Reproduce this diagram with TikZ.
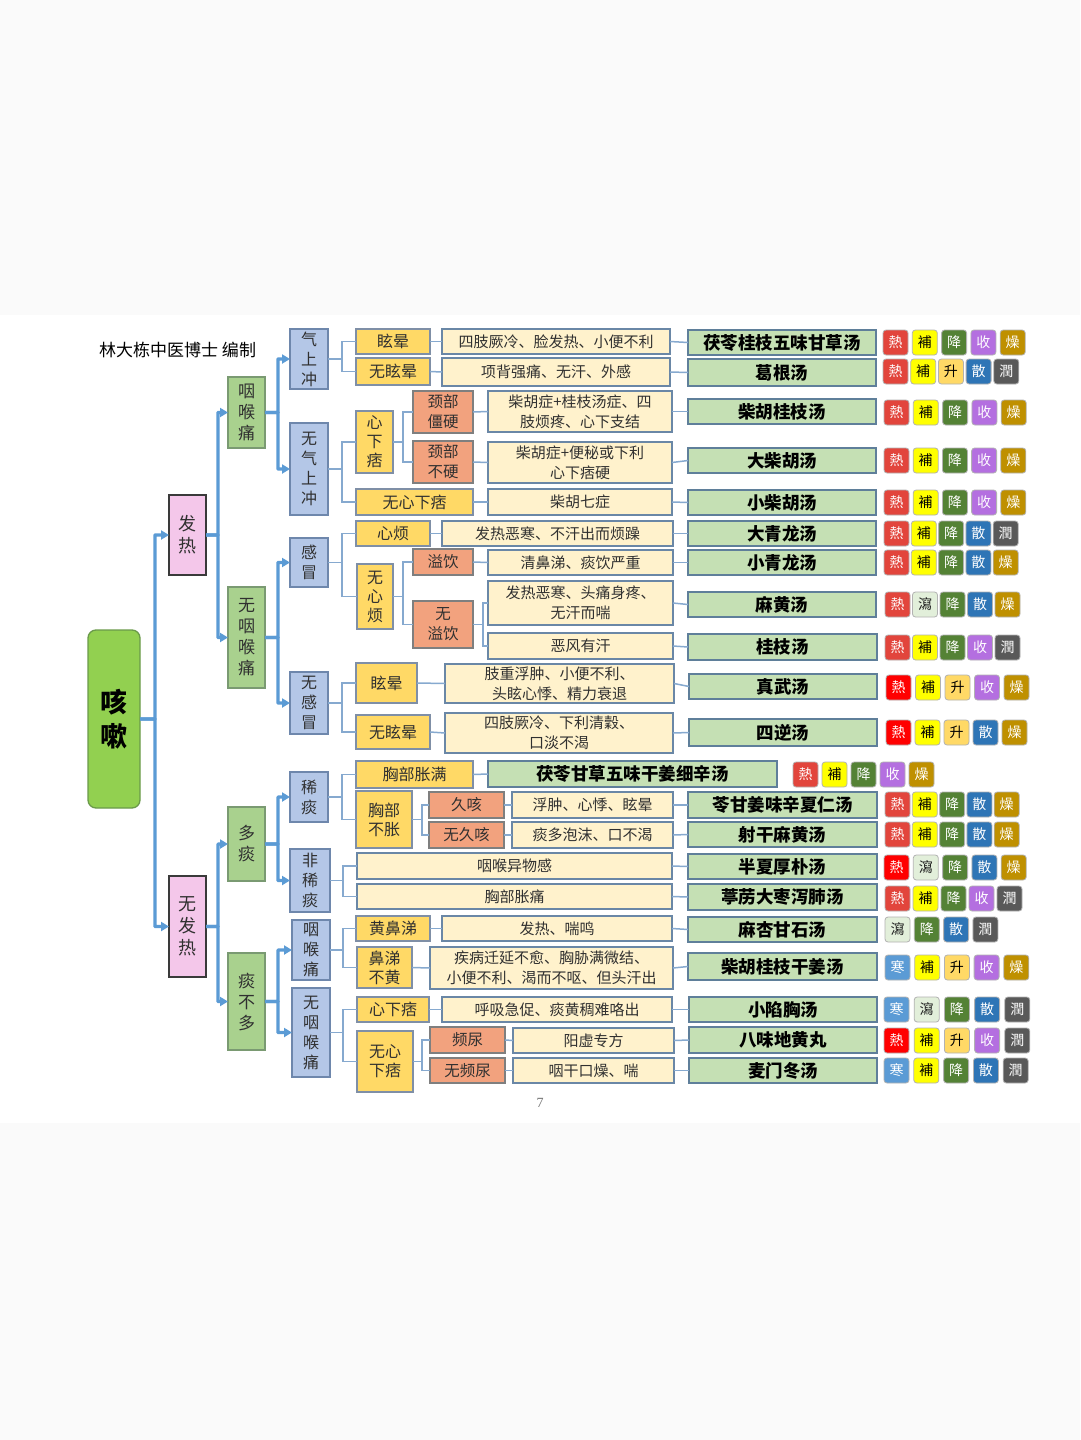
\documentclass[tikz,border=0pt]{standalone}
\usepackage{fontspec}
\setmainfont{Noto Sans CJK SC}
\newfontfamily\numfont{Liberation Serif}
\usetikzlibrary{arrows.meta}
\definecolor{rootfill}{HTML}{92D050}\definecolor{rootdraw}{HTML}{6A9A4A}
\definecolor{pinkfill}{HTML}{F4C7EA}\definecolor{pinkdraw}{HTML}{3A3A3A}
\definecolor{lvtwofill}{HTML}{A9D18E}\definecolor{lvtwodraw}{HTML}{7A9A72}
\definecolor{lvthreefill}{HTML}{B4C7E7}\definecolor{lvthreedraw}{HTML}{6E87AC}
\definecolor{yfill}{HTML}{FFD966}\definecolor{ydraw}{HTML}{7F8FA6}
\definecolor{ofill}{HTML}{F2A27E}\definecolor{odraw}{HTML}{7F7F7F}
\definecolor{sfill}{HTML}{FFF2CC}\definecolor{sdraw}{HTML}{6A87A6}
\definecolor{ffill}{HTML}{C5E0B4}\definecolor{fdraw}{HTML}{5F7F9A}
\definecolor{arrowblue}{HTML}{5B9BD5}\definecolor{connblue}{HTML}{86A9CF}
\definecolor{txt}{HTML}{303030}
% tag colours
\definecolor{tgfre}{HTML}{E2453C}\definecolor{tgtre}{HTML}{FFFFFF}
\definecolor{tgfrr}{HTML}{FF0000}\definecolor{tgtrr}{HTML}{FFFFFF}
\definecolor{tgfbu}{HTML}{FFFF00}\definecolor{tgtbu}{HTML}{000000}
\definecolor{tgfjiang}{HTML}{548235}\definecolor{tgtjiang}{HTML}{FFFFFF}
\definecolor{tgfshou}{HTML}{B46FE0}\definecolor{tgtshou}{HTML}{FFFFFF}
\definecolor{tgfzao}{HTML}{BF9000}\definecolor{tgtzao}{HTML}{FFFFFF}
\definecolor{tgfsheng}{HTML}{FFD966}\definecolor{tgtsheng}{HTML}{000000}
\definecolor{tgfsan}{HTML}{2E75B6}\definecolor{tgtsan}{HTML}{FFFFFF}
\definecolor{tgfrun}{HTML}{595959}\definecolor{tgtrun}{HTML}{FFFFFF}
\definecolor{tgfxie}{HTML}{E2EFDA}\definecolor{tgtxie}{HTML}{202020}
\definecolor{tgfhan}{HTML}{5B9BD5}\definecolor{tgthan}{HTML}{FFFFFF}
\tikzset{
  base/.style={inner sep=0pt, outer sep=0pt, align=center, text=txt, line width=1.3pt},
  rootbox/.style={base, fill=rootfill, draw=rootdraw, rounded corners=8pt, text=black, font=\fontsize{27}{34}\selectfont\bfseries},
  lvone/.style={base, fill=pinkfill, draw=pinkdraw, font=\fontsize{18}{22}\selectfont},
  lvtwo/.style={base, fill=lvtwofill, draw=lvtwodraw, font=\fontsize{17}{21}\selectfont},
  lvthree/.style={base, fill=lvthreefill, draw=lvthreedraw, font=\fontsize{16}{20}\selectfont},
  ybox/.style={base, fill=yfill, draw=ydraw, font=\fontsize{16}{19}\selectfont},
  obox/.style={base, fill=ofill, draw=odraw, font=\fontsize{15.5}{20}\selectfont},
  sbox/.style={base, fill=sfill, draw=sdraw, font=\fontsize{15}{20}\selectfont},
  fbox/.style={base, fill=ffill, draw=fdraw, text=black, font=\fontsize{17.5}{20}\selectfont\bfseries},
  tagbox/.style={inner sep=0pt, outer sep=0pt, minimum width=25pt, minimum height=25pt, rounded corners=3pt, draw=black!30, line width=0.8pt, font=\fontsize{14}{14}\selectfont},
  arr/.style={draw=arrowblue, line width=3.2pt, rounded corners=0.5pt, -{Triangle[length=8pt,width=9pt]}},
  conn/.style={draw=connblue, line width=1.5pt},
}
\newcommand\mybox[7]{\node[#2, minimum width={#5-#3}, minimum height={#6-#4}] (#1) at ({(#3+#5)/2},{(#4+#6)/2}) {#7};}
\newcommand\tgrow[5]{\foreach \tgs/\tgc [count=\tgi from 0] in {#5}{\node[tagbox, fill=tgf\tgs, text=tgt\tgs] (tg#1-\tgi) at ({#3+12.5+\tgi*#4},{#2+12.5}) {\tgc};}}
\begin{document}
\begin{tikzpicture}[x=1pt,y=-1pt]
\useasboundingbox (0,0) rectangle (1080,1440);
\fill[black!2] (0,0) rectangle (1080,1440);
\fill[white] (0,315) rectangle (1080,1123);
\node[anchor=west, inner sep=0pt, font=\fontsize{17}{20}\selectfont, text=black] (title) at (99,350) {林大栋中医博士 编制};
\node[text=black!55, inner sep=0pt, font=\numfont\fontsize{14}{14}\selectfont] (pgno) at (540,1103) {7};
% root and levels
\mybox{root}{rootbox}{88}{630}{140}{808}{咳\\嗽}
\mybox{fr}{lvone}{169}{495}{206}{575}{发\\热}
\mybox{nfr}{lvone}{169}{876}{206}{977}{无\\发\\热}
\mybox{yht}{lvtwo}{228}{377}{265}{448}{咽\\喉\\痛}
\mybox{nyht}{lvtwo}{228}{587}{265}{688}{无\\咽\\喉\\痛}
\mybox{dt}{lvtwo}{228}{807}{265}{881}{多\\痰}
\mybox{tbd}{lvtwo}{228}{953}{265}{1050}{痰\\不\\多}
\mybox{qsc}{lvthree}{290}{329}{328}{389}{气\\上\\冲}
\mybox{nqsc}{lvthree}{290}{423}{328}{515}{无\\气\\上\\冲}
\mybox{gm}{lvthree}{290}{538}{328}{587}{感\\冒}
\mybox{ngm}{lvthree}{290}{672}{328}{734}{无\\感\\冒}
\mybox{xt}{lvthree}{290}{772}{328}{822}{稀\\痰}
\mybox{fxt}{lvthree}{290}{849}{330}{912}{非\\稀\\痰}
\mybox{yhtb}{lvthree}{292}{920}{330}{980}{咽\\喉\\痛}
\mybox{nyhtb}{lvthree}{292}{988}{330}{1077}{无\\咽\\喉\\痛}
% yellow
\mybox{ya}{ybox}{356}{329}{430}{354}{眩晕}
\mybox{yb}{ybox}{356}{358}{430}{385}{无眩晕}
\mybox{yc}{ybox}{356}{411}{393}{473}{心\\下\\痞}
\mybox{yd}{ybox}{356}{489}{473}{515}{无心下痞}
\mybox{ye}{ybox}{356}{521}{430}{546}{心烦}
\mybox{yf}{ybox}{357}{564}{393}{629}{无\\心\\烦}
\mybox{yg}{ybox}{356}{663}{417}{703}{眩晕}
\mybox{yh}{ybox}{356}{715}{430}{749}{无眩晕}
\mybox{yi}{ybox}{356}{761}{473}{788}{胸部胀满}
\mybox{yj}{ybox}{356}{791}{412}{848}{胸部\\不胀}
\mybox{yk}{ybox}{356}{916}{430}{941}{黄鼻涕}
\mybox{yl}{ybox}{357}{947}{412}{988}{鼻涕\\不黄}
\mybox{ym}{ybox}{357}{997}{429}{1022}{心下痞}
\mybox{yn}{ybox}{357}{1031}{413}{1092}{无心\\下痞}
% orange
\mybox{oa}{obox}{413}{391}{473}{433}{颈部\\僵硬}
\mybox{ob}{obox}{413}{441}{473}{483}{颈部\\不硬}
\mybox{oc}{obox}{413}{549}{473}{575}{溢饮}
\mybox{od}{obox}{413}{601}{473}{648}{无\\溢饮}
\mybox{oe}{obox}{429}{792}{504}{818}{久咳}
\mybox{of}{obox}{429}{822}{504}{848}{无久咳}
\mybox{og}{obox}{430}{1027}{505}{1053}{频尿}
\mybox{oh}{obox}{430}{1058}{505}{1083}{无频尿}
% symptoms
\mybox{s1}{sbox}{442}{329}{670}{354}{四肢厥冷、脸发热、小便不利}
\mybox{s2}{sbox}{442}{358}{670}{386}{项背强痛、无汗、外感}
\mybox{s3}{sbox}{488}{391}{672}{432}{柴胡症+桂枝汤症、四\\肢烦疼、心下支结}
\mybox{s4}{sbox}{488}{442}{672}{483}{柴胡症+便秘或下利\\心下痞硬}
\mybox{s5}{sbox}{488}{489}{672}{515}{柴胡七症}
\mybox{s6}{sbox}{442}{521}{673}{546}{发热恶寒、不汗出而烦躁}
\mybox{s7}{sbox}{488}{550}{673}{575}{清鼻涕、痰饮严重}
\mybox{s8}{sbox}{488}{581}{673}{625}{发热恶寒、头痛身疼、\\无汗而喘}
\mybox{s9}{sbox}{488}{633}{673}{659}{恶风有汗}
\mybox{s10}{sbox}{445}{664}{674}{703}{肢重浮肿、小便不利、\\头眩心悸、精力衰退}
\mybox{s11}{sbox}{445}{713}{673}{753}{四肢厥冷、下利清穀、\\口淡不渴}
\mybox{s13}{sbox}{512}{792}{673}{818}{浮肿、心悸、眩晕}
\mybox{s14}{sbox}{512}{822}{673}{848}{痰多泡沫、口不渴}
\mybox{s15}{sbox}{357}{853}{672}{879}{咽喉异物感}
\mybox{s16}{sbox}{357}{884}{672}{909}{胸部胀痛}
\mybox{s17}{sbox}{442}{916}{672}{941}{发热、喘鸣}
\mybox{s18}{sbox}{430}{947}{673}{989}{疾病迁延不愈、胸胁满微结、\\小便不利、渴而不呕、但头汗出}
\mybox{s19}{sbox}{442}{997}{672}{1022}{呼吸急促、痰黄稠难咯出}
\mybox{s20}{sbox}{513}{1028}{674}{1053}{阳虚专方}
\mybox{s21}{sbox}{513}{1058}{674}{1083}{咽干口燥、喘}
% formulas
\mybox{f1}{fbox}{688}{330}{876}{355}{茯苓桂枝五味甘草汤}
\mybox{f2}{fbox}{688}{359}{876}{386}{葛根汤}
\mybox{f3}{fbox}{688}{399}{876}{424}{柴胡桂枝汤}
\mybox{f4}{fbox}{688}{448}{876}{473}{大柴胡汤}
\mybox{f5}{fbox}{688}{490}{876}{515}{小柴胡汤}
\mybox{f6}{fbox}{688}{521}{876}{546}{大青龙汤}
\mybox{f7}{fbox}{688}{550}{876}{575}{小青龙汤}
\mybox{f8}{fbox}{688}{592}{876}{617}{麻黄汤}
\mybox{f9}{fbox}{688}{634}{877}{660}{桂枝汤}
\mybox{f10}{fbox}{689}{674}{877}{699}{真武汤}
\mybox{f11}{fbox}{689}{719}{877}{746}{四逆汤}
\mybox{f12}{fbox}{488}{761}{777}{787}{茯苓甘草五味干姜细辛汤}
\mybox{f13}{fbox}{688}{792}{877}{818}{苓甘姜味辛夏仁汤}
\mybox{f14}{fbox}{688}{822}{877}{847}{射干麻黄汤}
\mybox{f15}{fbox}{688}{854}{877}{879}{半夏厚朴汤}
\mybox{f16}{fbox}{688}{884}{877}{910}{葶苈大枣泻肺汤}
\mybox{f17}{fbox}{688}{917}{877}{942}{麻杏甘石汤}
\mybox{f18}{fbox}{688}{953}{877}{980}{柴胡桂枝干姜汤}
\mybox{f19}{fbox}{689}{997}{877}{1022}{小陷胸汤}
\mybox{f20}{fbox}{689}{1027}{877}{1053}{八味地黄丸}
\mybox{f21}{fbox}{689}{1058}{877}{1083}{麦门冬汤}
% tags
\tgrow{1}{330}{883}{29.3}{re/熱,bu/補,jiang/降,shou/收,zao/燥}
\tgrow{2}{359}{883}{27.7}{re/熱,bu/補,sheng/升,san/散,run/潤}
\tgrow{3}{400}{884}{29.3}{re/熱,bu/補,jiang/降,shou/收,zao/燥}
\tgrow{4}{448}{884}{29.2}{re/熱,bu/補,jiang/降,shou/收,zao/燥}
\tgrow{5}{490}{884}{29.2}{re/熱,bu/補,jiang/降,shou/收,zao/燥}
\tgrow{6}{521}{884}{27.3}{re/熱,bu/補,jiang/降,san/散,run/潤}
\tgrow{7}{550}{884}{27.3}{re/熱,bu/補,jiang/降,san/散,zao/燥}
\tgrow{8}{592}{885}{27.5}{re/熱,xie/瀉,jiang/降,san/散,zao/燥}
\tgrow{9}{635}{885}{27.5}{re/熱,bu/補,jiang/降,shou/收,run/潤}
\tgrow{10}{675}{886}{29.5}{rr/熱,bu/補,sheng/升,shou/收,zao/燥}
\tgrow{11}{720}{886}{29}{rr/熱,bu/補,sheng/升,san/散,zao/燥}
\tgrow{12}{762}{793}{29}{re/熱,bu/補,jiang/降,shou/收,zao/燥}
\tgrow{13}{792}{885}{27.3}{re/熱,bu/補,jiang/降,san/散,zao/燥}
\tgrow{14}{822}{885}{27.3}{re/熱,bu/補,jiang/降,san/散,zao/燥}
\tgrow{15}{855}{884}{29.3}{rr/熱,xie/瀉,jiang/降,san/散,zao/燥}
\tgrow{16}{886}{885}{28}{re/熱,bu/補,jiang/降,shou/收,run/潤}
\tgrow{17}{917}{885}{29.3}{xie/瀉,jiang/降,san/散,run/潤}
\tgrow{18}{955}{885}{29.7}{han/寒,bu/補,sheng/升,shou/收,zao/燥}
\tgrow{19}{997}{884}{30.2}{han/寒,xie/瀉,jiang/降,san/散,run/潤}
\tgrow{20}{1028}{884}{30.2}{rr/熱,bu/補,sheng/升,shou/收,run/潤}
\tgrow{21}{1058}{884}{29.8}{han/寒,bu/補,jiang/降,san/散,run/潤}
% thick arrows
\draw[arr] (root.east) -- ++(15,0) |- (fr.west);
\draw[arr] (root.east) -- ++(15,0) |- (nfr.west);
\draw[arr] (fr.east) -- ++(12,0) |- (yht.west);
\draw[arr] (fr.east) -- ++(12,0) |- (nyht.west);
\draw[arr] (nfr.east) -- ++(12,0) |- (dt.west);
\draw[arr] (nfr.east) -- ++(12,0) |- (tbd.west);
\draw[arr] (yht.east) -- ++(13,0) |- (qsc.west);
\draw[arr] (yht.east) -- ++(13,0) |- (nqsc.west);
\draw[arr] (nyht.east) -- ++(13,0) |- (gm.west);
\draw[arr] (nyht.east) -- ++(13,0) |- (ngm.west);
\draw[arr] (dt.east) -- ++(13,0) |- (xt.west);
\draw[arr] (dt.east) -- ++(13,0) |- (fxt.west);
\draw[arr] (tbd.east) -- ++(13,0) |- (yhtb.west);
\draw[arr] (tbd.east) -- ++(13,0) |- (nyhtb.west);
% thin connectors lvl3 -> lvl4
\foreach \a/\b/\o in {qsc/ya/14,qsc/yb/14,nqsc/yc/14,nqsc/yd/14,gm/ye/14,gm/yf/14,ngm/yg/14,ngm/yh/14,xt/yi/14,xt/yj/14,fxt/s15/13,fxt/s16/13,yhtb/yk/13,yhtb/yl/13,nyhtb/ym/13,nyhtb/yn/13,yc/oa/10,yc/ob/10,yf/oc/10,yf/od/10,od/s8/10,od/s9/10,yj/oe/10,yj/of/10,yn/og/9,yn/oh/9}
  {\draw[conn] (\a.east) -- ++(\o,0) |- (\b.west);}
\foreach \a/\b in {ya/s1,yb/s2,oa/s3,ob/s4,yd/s5,ye/s6,oc/s7,yg/s10,yh/s11,oe/s13,of/s14,yk/s17,yl/s18,ym/s19,og/s20,oh/s21,
  s1/f1,s2/f2,s3/f3,s4/f4,s5/f5,s6/f6,s7/f7,s8/f8,s9/f9,s10/f10,s11/f11,yi/f12,s13/f13,s14/f14,s15/f15,s16/f16,s17/f17,s18/f18,s19/f19,s20/f20,s21/f21}
  {\draw[conn] (\a.east) -- (\b.west);}
\end{tikzpicture}
\end{document}
